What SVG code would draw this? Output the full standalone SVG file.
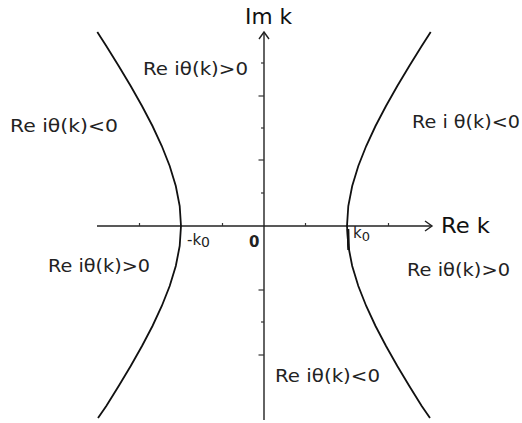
<svg xmlns="http://www.w3.org/2000/svg" width="522" height="423" viewBox="0 0 522 423">
<style>
.ax{stroke:#222;stroke-width:1.4;fill:none}
.tk{stroke:#333;stroke-width:1.2}
.cv{stroke:#111;stroke-width:1.8;fill:none}
.lb{font-family:"DejaVu Sans",sans-serif;font-size:18px;fill:#222}
.sm{font-family:"DejaVu Sans",sans-serif;font-size:15px;fill:#222}
.big{font-family:"DejaVu Sans",sans-serif;font-size:22px;fill:#111}
</style>
<rect width="522" height="423" fill="#fff"/>
<g id="connectors">
<g id="real-axis">
<line class="ax" x1="97" y1="226" x2="432" y2="226"/>
<polyline class="ax" points="425,221 432,226 425,231"/>
<line class="tk" x1="139.5" y1="223" x2="139.5" y2="226"/>
<line class="tk" x1="222.5" y1="223" x2="222.5" y2="226"/>
<line class="tk" x1="305.5" y1="223" x2="305.5" y2="226"/>
<line class="tk" x1="388.5" y1="223" x2="388.5" y2="226"/>
</g>
<g id="imag-axis">
<line class="ax" x1="264" y1="32" x2="264" y2="420"/>
<polyline class="ax" points="259,39 264,32 269,39"/>
<line class="tk" x1="261" y1="63" x2="264" y2="63"/>
<line class="tk" x1="258.5" y1="96" x2="264" y2="96"/>
<line class="tk" x1="261" y1="128" x2="264" y2="128"/>
<line class="tk" x1="258.5" y1="160" x2="264" y2="160"/>
<line class="tk" x1="261" y1="193" x2="264" y2="193"/>
<line class="tk" x1="258.5" y1="290" x2="264" y2="290"/>
<line class="tk" x1="261" y1="322" x2="264" y2="322"/>
<line class="tk" x1="258.5" y1="355" x2="264" y2="355"/>
</g>
</g>
<g id="left-branch">
<polyline class="cv" points="97.3,32 106.3,46 118.7,66 130.7,86 142,106 152.5,126 161.8,146 169.7,166 175.8,186 179.7,206 181,226 179.7,246 175.8,266 169.7,286 161.8,306 152.5,326 142,346 130.7,366 118.7,386 106.3,406 98,418"/>
</g>
<g id="right-branch">
<polyline class="cv" points="430.7,32 421.7,46 409.3,66 397.3,86 386,106 375.5,126 366.2,146 358.3,166 352.2,186 348.3,206 347,226 348.3,246 352.2,266 358.3,286 366.2,306 375.5,326 386,346 397.3,366 409.3,386 421.7,406 430,418"/>
<line x1="348" y1="229" x2="348.6" y2="250" stroke="#111" stroke-width="2.6"/>
</g>
<g id="labels">
<text class="big" x="245" y="24" textLength="47" lengthAdjust="spacingAndGlyphs">Im k</text>
<text class="big" x="441" y="233" textLength="49" lengthAdjust="spacingAndGlyphs">Re k</text>
<text class="sm" x="187" y="245">-k<tspan font-size="14" dy="2">0</tspan></text>
<text class="sm" x="249" y="247" font-weight="bold">0</text>
<text class="sm" x="353" y="238">k<tspan font-size="13" dy="3">0</tspan></text>
<text class="lb" x="143" y="75" textLength="105" lengthAdjust="spacingAndGlyphs">Re iθ(k)&gt;0</text>
<text class="lb" x="10" y="132" textLength="108" lengthAdjust="spacingAndGlyphs">Re iθ(k)&lt;0</text>
<text class="lb" x="412" y="128" textLength="108" lengthAdjust="spacingAndGlyphs">Re i θ(k)&lt;0</text>
<text class="lb" x="48" y="272" textLength="102" lengthAdjust="spacingAndGlyphs">Re iθ(k)&gt;0</text>
<text class="lb" x="407" y="276" textLength="103" lengthAdjust="spacingAndGlyphs">Re iθ(k)&gt;0</text>
<text class="lb" x="275" y="382" textLength="105" lengthAdjust="spacingAndGlyphs">Re iθ(k)&lt;0</text>
</g>
</svg>
